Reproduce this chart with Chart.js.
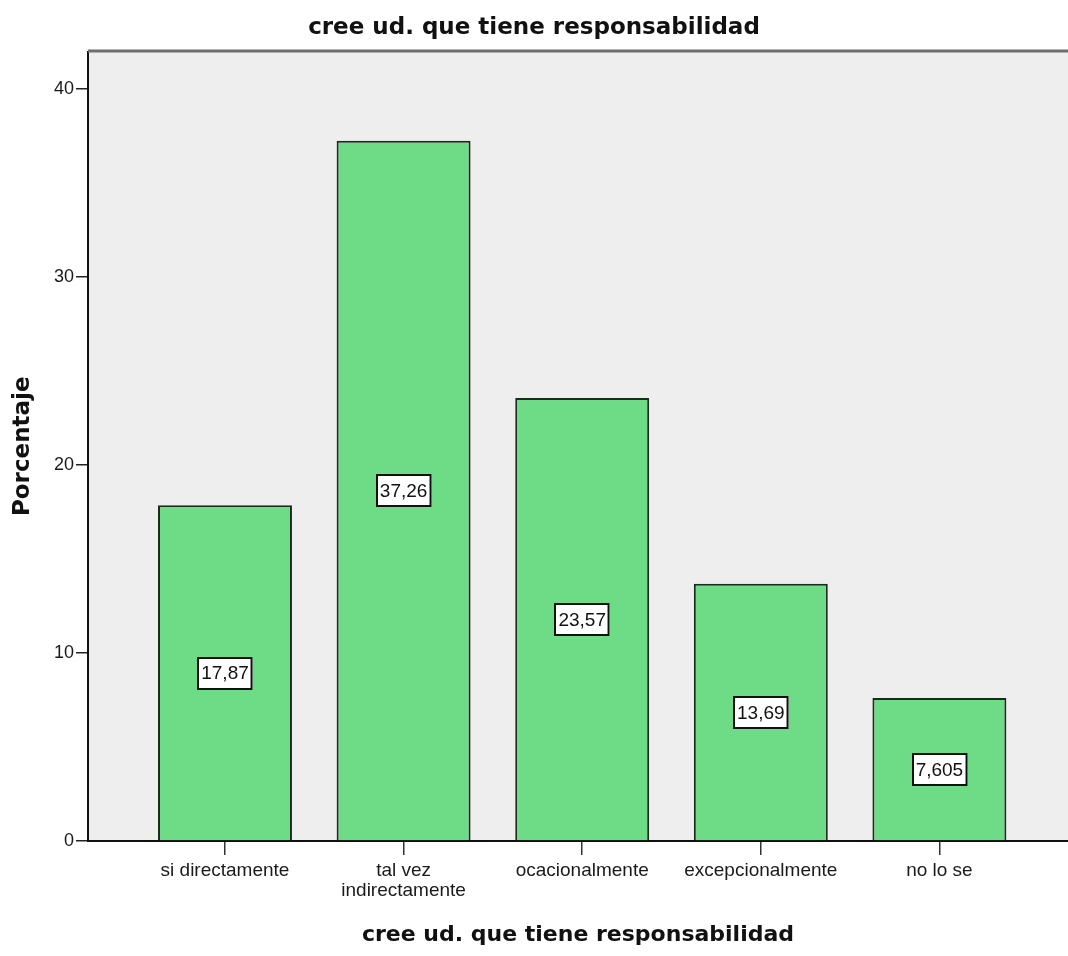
<!DOCTYPE html>
<html lang="es">
<head>
<meta charset="utf-8">
<title>cree ud. que tiene responsabilidad</title>
<script src="https://cdn.jsdelivr.net/npm/chart.js@4/dist/chart.umd.min.js"></script>
<style>
  html, body { margin: 0; padding: 0; background: #ffffff; overflow: hidden; }
  #wrap { width: 1068px; height: 956px; position: relative; }
</style>
</head>
<body>
<div id="wrap"><canvas id="chart"></canvas></div>
<script>
// Categorías del eje X (las de dos líneas van como arreglo)
const categories = [
  ['si directamente'],
  ['tal vez', 'indirectamente'],
  ['ocacionalmente'],
  ['excepcionalmente'],
  ['no lo se']
];
// Porcentaje de respuestas por categoría
const percentages = [17.87, 37.26, 23.57, 13.69, 7.605];
// Marcas del eje Y
const yTicks = [0, 10, 20, 30, 40];

const chartTitle = 'cree ud. que tiene responsabilidad';
const yTitle = 'Porcentaje';

const points = percentages.map((v, i) => ({ x: i, y: v }));
const fmt = v => String(v).replace('.', ',');

// Fondo gris del área de trazado y borde superior
const plotBackground = {
  id: 'plotBackground',
  beforeDraw(chart) {
    const { ctx, chartArea: a } = chart;
    ctx.save();
    ctx.fillStyle = '#eeeeee';
    ctx.fillRect(a.left, a.top, a.right - a.left, a.bottom - a.top);
    ctx.restore();
  },
  afterDraw(chart) {
    const { ctx, chartArea: a } = chart;
    ctx.save();
    ctx.strokeStyle = '#6e6e6e';
    ctx.lineWidth = 3;
    ctx.beginPath();
    ctx.moveTo(a.left, a.top - 0.5);
    ctx.lineTo(a.right, a.top - 0.5);
    ctx.stroke();
    ctx.restore();
  }
};

// Etiquetas de valor en recuadro blanco, centradas en cada barra
const valueBoxes = {
  id: 'valueBoxes',
  afterDatasetsDraw(chart) {
    const { ctx, scales: { x, y } } = chart;
    ctx.save();
    ctx.font = '19px "Liberation Sans", Arial, sans-serif';
    ctx.textAlign = 'center';
    ctx.textBaseline = 'middle';
    percentages.forEach((v, i) => {
      const cx = x.getPixelForValue(i);
      const cy = y.getPixelForValue(v / 2);
      const txt = fmt(v);
      const w = ctx.measureText(txt).width + 8;
      const h = 33;
      const bx = Math.round(cx - w / 2), by = Math.round(cy - h / 2);
      ctx.fillStyle = '#ffffff';
      ctx.fillRect(bx, by, w, h);
      ctx.strokeStyle = '#111111';
      ctx.lineWidth = 2;
      ctx.strokeRect(bx + 1, by + 1, w - 2, h - 2);
      ctx.fillStyle = '#111111';
      ctx.fillText(txt, cx, cy + 1);
    });
    ctx.restore();
  }
};

new Chart(document.getElementById('chart'), {
  type: 'bar',
  data: {
    datasets: [{
      data: points,
      backgroundColor: '#6edb86',
      borderColor: '#1b2a1b',
      borderWidth: 2,
      borderSkipped: 'start',
      categoryPercentage: 1,
      barPercentage: 0.75
    }]
  },
  options: {
    responsive: true,
    maintainAspectRatio: false,
    animation: false,
    layout: { padding: { left: 0, right: 0, top: 0, bottom: 0 } },
    plugins: {
      legend: { display: false },
      tooltip: { enabled: false },
      title: {
        display: true,
        text: chartTitle,
        color: '#111111',
        font: { family: '"DejaVu Sans", Verdana, sans-serif', size: 23, weight: 'bold', lineHeight: 1.2 },
        padding: { top: 14, bottom: 10 }
      }
    },
    scales: {
      x: {
        type: 'linear',
        offset: false,
        min: -0.767,
        max: 4.72,
        afterBuildTicks(scale) {
          scale.ticks = categories.map((c, i) => ({ value: i }));
        },
        afterFit(scale) { scale.height = 115; },
        grid: {
          display: true,
          offset: false,
          drawOnChartArea: false,
          drawTicks: true,
          tickLength: 14,
          color: '#333333',
          lineWidth: 1.5
        },
        border: { display: true, color: '#111111', width: 2 },
        ticks: {
          autoSkip: false,
          maxRotation: 0,
          padding: 6,
          color: '#1a1a1a',
          font: { family: '"Liberation Sans", Arial, sans-serif', size: 19, lineHeight: 1.05 },
          callback: v => categories[v]
        },
        title: {
          display: true,
          text: chartTitle,
          color: '#111111',
          font: { family: '"DejaVu Sans", Verdana, sans-serif', size: 22, weight: 'bold', lineHeight: 1.2 },
          padding: { top: 0, bottom: 8 }
        }
      },
      y: {
        min: 0,
        max: 42,
        afterBuildTicks(scale) {
          scale.ticks = yTicks.map(v => ({ value: v }));
        },
        afterFit(scale) { scale.width = 88; },
        grid: {
          display: true,
          drawOnChartArea: false,
          drawTicks: true,
          tickLength: 12,
          color: '#222222',
          lineWidth: 1.5
        },
        border: { display: true, color: '#111111', width: 2 },
        ticks: {
          padding: 2,
          color: '#1a1a1a',
          font: { family: '"Liberation Sans", Arial, sans-serif', size: 18 }
        },
        title: {
          display: true,
          text: yTitle,
          color: '#111111',
          font: { family: '"DejaVu Sans", Verdana, sans-serif', size: 23, weight: 'bold', lineHeight: 1.2 },
          padding: { top: 9, bottom: 0 }
        }
      }
    }
  },
  plugins: [plotBackground, valueBoxes]
});
</script>
</body>
</html>
